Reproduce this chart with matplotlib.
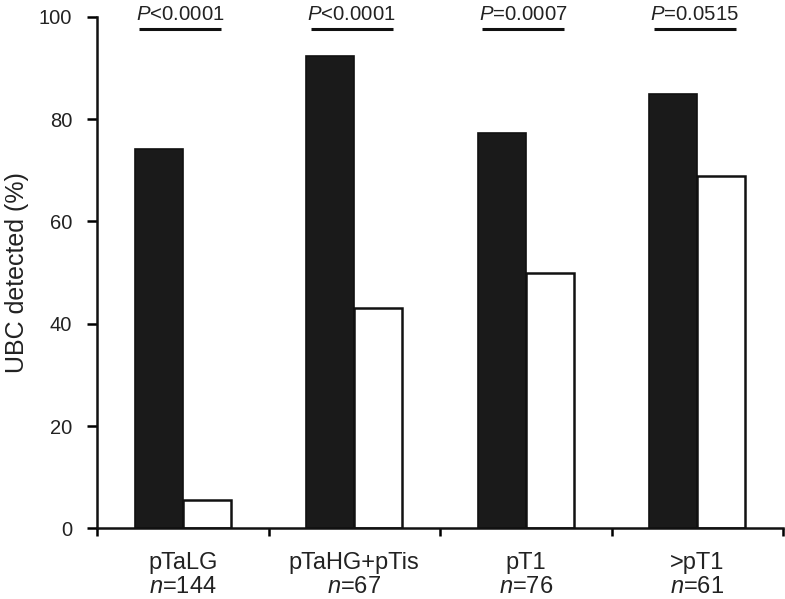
import matplotlib
matplotlib.use("Agg")
import matplotlib.pyplot as plt
import numpy as np

plt.rcParams['font.family'] = ['Liberation Sans', 'DejaVu Sans']
plt.rcParams['mathtext.fontset'] = 'custom'
plt.rcParams['mathtext.rm'] = 'Liberation Sans'
plt.rcParams['mathtext.it'] = 'Liberation Sans:italic'

groups = ['pTaLG', 'pTaHG+pTis', 'pT1', '>pT1']
n_cases = [144, 67, 76, 61]
black_vals = [74.1, 92.3, 77.3, 84.9]
white_vals = [5.5, 43.0, 50.0, 68.9]
p_labels = ['$P$<0.0001', '$P$<0.0001', '$P$=0.0007', '$P$=0.0515']

fig = plt.figure(figsize=(7.85, 5.99), dpi=100)
ax = fig.add_axes([0.1236, 0.118, 0.874, 0.854])

x = np.arange(len(groups))
w = 0.28
ax.bar(x - w / 2, black_vals, w, color='#1a1a1a', edgecolor='#111111', linewidth=1.2)
ax.bar(x + w / 2, white_vals, w, color='white', edgecolor='#111111', linewidth=1.8)

# p value brackets above each group
for xi, lab in zip(x, p_labels):
    ax.plot([xi - 0.255, xi + 0.225], [97.6, 97.6], color='#111111', lw=2.2,
            clip_on=False, solid_capstyle='butt')
    ax.text(xi - 0.015, 99.3, lab, ha='center', va='baseline', fontsize=14.7,
            color='#222222', clip_on=False)

ax.set_xlim(-0.5, 3.5)
ax.set_ylim(0, 100)
ax.set_yticks([0, 20, 40, 60, 80, 100])
ax.set_xticks(np.arange(-0.5, 4.0, 1.0))
ax.set_xticklabels([])
ax.set_xticks(x, minor=True)
ax.set_xticklabels([g + '\n$n$=' + str(n) for g, n in zip(groups, n_cases)], minor=True)
ax.tick_params(axis='x', which='minor', length=0, pad=17, labelsize=17, labelcolor='#222222')
ax.tick_params(axis='x', which='major', direction='out', length=6, width=1.8)
ax.tick_params(axis='y', direction='out', length=7, width=1.8, labelsize=14.5,
               labelcolor='#222222', pad=11)
for t in ax.get_xticklabels(minor=True):
    t.set_linespacing(1.12)

for s in ['top', 'right']:
    ax.spines[s].set_visible(False)
for s in ['left', 'bottom']:
    ax.spines[s].set_linewidth(1.8)
    ax.spines[s].set_color('#111111')

ax.set_ylabel('UBC detected (%)', fontsize=18, color='#222222', labelpad=7)

fig.savefig('out.png', dpi=100)
